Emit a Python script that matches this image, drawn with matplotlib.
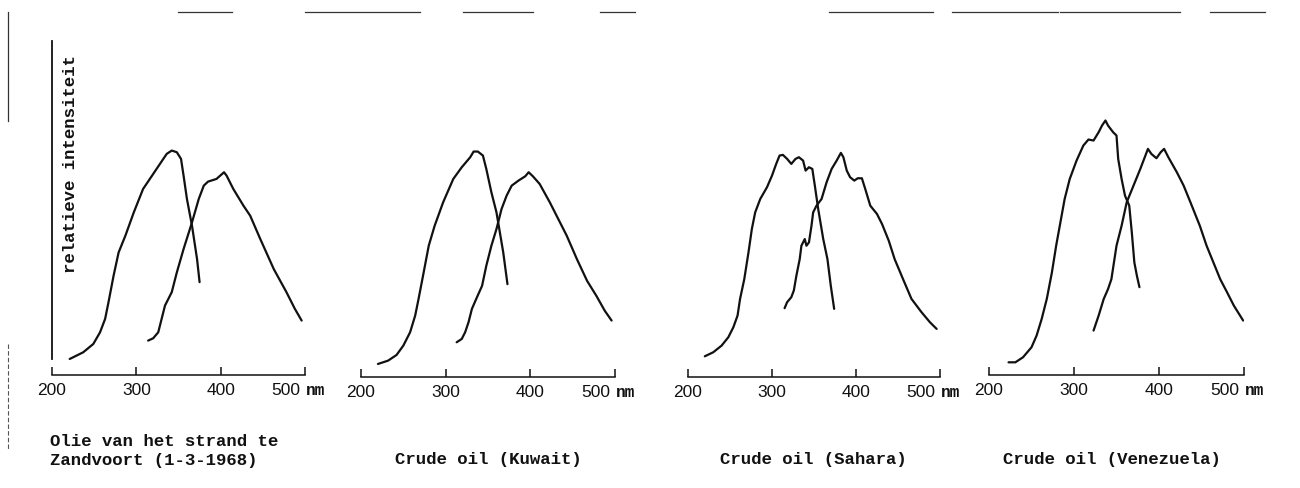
import matplotlib
matplotlib.use('Agg')
import matplotlib.pyplot as plt
from matplotlib.lines import Line2D
from matplotlib.transforms import ScaledTranslation

W, H = 1300, 489
DPI = 100

# ---- data (wavelength nm, relative intensity) ----
titles = ['Olie van het strand te\nZandvoort (1-3-1968)',
          'Crude oil (Kuwait)',
          'Crude oil (Sahara)',
          'Crude oil (Venezuela)']

# excitation spectra (left curves)
exc_nm_zandvoort = [221, 237, 249, 257, 263, 267, 273, 279, 287, 297, 308, 324, 336, 342, 348, 353, 356, 360, 366, 372, 375]
exc_int_zandvoort = [4.8, 6.8, 9.3, 12.8, 16.8, 21.8, 29.7, 36.7, 41.7, 48.7, 55.7, 61.7, 66.2, 67.2, 66.7, 64.7, 59.7, 52.7, 44.7, 34.7, 27.8]
exc_nm_kuwait = [220, 232, 242, 250, 258, 264, 268, 274, 280, 287, 297, 309, 319, 329, 333, 338, 344, 348, 354, 360, 364, 368, 373]
exc_int_kuwait = [3.9, 4.9, 6.6, 9.4, 13.4, 18.4, 23.4, 31.3, 39.3, 45.3, 52.3, 59.3, 62.8, 65.8, 67.5, 67.5, 66.3, 62.3, 55.3, 49.3, 43.3, 37.3, 27.8]
exc_nm_sahara = [220, 230, 240, 248, 254, 259, 262, 267, 272, 276, 280, 286, 294, 300, 305, 309, 313, 318, 323, 328,
                 332, 337, 340, 344, 348, 351, 355, 361, 366, 370, 374]
exc_int_sahara = [6.2, 7.4, 9.4, 11.9, 14.9, 18.4, 23.4, 29.3, 37.3, 44.3, 49.3, 53.3, 56.8, 60.3, 63.8, 66.3, 66.5, 65.3, 63.8, 65.3,
                  65.8, 64.8, 61.8, 62.8, 62.3, 57.3, 50.3, 41.3, 35.3, 27.3, 20.4]
exc_nm_venezuela = [223, 231, 240, 250, 256, 262, 268, 274, 279, 284, 289, 295, 303, 311, 317, 323, 329, 333, 337, 340,
                    346, 350, 352, 356, 360, 365, 368, 371, 374, 377]
exc_int_venezuela = [3.8, 3.8, 5.3, 8.3, 11.8, 16.8, 22.8, 30.7, 38.7, 45.7, 52.7, 58.7, 64.2, 68.7, 70.5, 70.2, 72.7, 74.7, 76.2, 74.7,
                     72.7, 71.7, 64.7, 58.7, 53.7, 50.7, 42.7, 33.7, 29.7, 26.3]

# emission spectra (right curves)
em_nm_zandvoort = [314, 320, 326, 330, 334, 342, 348, 356, 366, 374, 380, 385, 395, 404, 407, 415, 427, 435, 447, 463, 478, 488, 496]
em_int_zandvoort = [10.3, 11.0, 12.8, 16.8, 20.8, 24.8, 30.7, 37.7, 45.7, 52.7, 56.7, 57.9, 58.7, 60.7, 59.7, 55.7, 50.7, 47.7, 40.7, 31.7, 24.8, 19.8, 16.3]
em_nm_kuwait = [313, 319, 323, 327, 331, 337, 343, 348, 354, 360, 366, 372, 378, 386, 394, 398, 403, 411, 423, 435, 443,
                455, 467, 478, 488, 496]
em_int_kuwait = [10.4, 11.4, 13.4, 16.4, 20.4, 23.9, 27.3, 33.3, 39.3, 44.3, 50.3, 54.3, 57.3, 58.8, 60.1, 61.3, 60.1, 57.8, 52.3, 46.3, 42.3,
                 35.3, 28.8, 24.3, 19.8, 16.9]
em_nm_sahara = [315, 318, 323, 326, 329, 333, 335, 339, 341, 344, 347, 349, 353, 359, 365, 371, 377, 382, 385, 389,
                393, 398, 402, 407, 411, 417, 425, 431, 439, 446, 456, 466, 478, 488, 496]
em_int_sahara = [20.6, 22.4, 23.9, 25.9, 30.3, 35.3, 39.3, 41.3, 39.3, 40.3, 45.3, 49.3, 51.3, 53.3, 58.3, 62.3, 64.8, 67.1, 65.8, 61.8,
                 59.8, 58.8, 59.5, 59.5, 56.3, 51.3, 48.8, 45.8, 40.8, 35.3, 29.3, 23.4, 19.4, 16.4, 14.4]
em_nm_venezuela = [323, 329, 335, 340, 344, 350, 356, 362, 370, 378, 384, 387, 391, 397, 402, 406, 411, 421, 429, 437,
                   448, 456, 464, 472, 480, 488, 499]
em_int_venezuela = [13.3, 17.8, 22.8, 25.7, 28.7, 38.7, 44.7, 51.7, 56.7, 61.7, 65.7, 67.7, 66.2, 64.9, 66.7, 67.7, 65.2, 60.7, 56.7, 51.7,
                    44.7, 38.7, 33.7, 28.7, 24.8, 20.8, 16.3]

exc_nm = [exc_nm_zandvoort, exc_nm_kuwait, exc_nm_sahara, exc_nm_venezuela]
exc_int = [exc_int_zandvoort, exc_int_kuwait, exc_int_sahara, exc_int_venezuela]
em_nm = [em_nm_zandvoort, em_nm_kuwait, em_nm_sahara, em_nm_venezuela]
em_int = [em_int_zandvoort, em_int_kuwait, em_int_sahara, em_int_venezuela]

xticks = [200, 300, 400, 500]
xticklabels = ['200', '300', '400', '500']

# ---- layout in pixels of the scanned page ----
panel_left = [52, 361, 688, 989]     # pixel of 200 nm
panel_right = [305, 615, 940, 1244]  # pixel of 500 nm
panel_base = [376, 378, 378, 376]    # pixel row of the wavelength axis
top_px = 42
px_per_unit = 3.34

mono = 'Liberation Mono'
digits = 'Liberation Sans'
ink = '#111111'

fig = plt.figure(figsize=(W / DPI, H / DPI), dpi=DPI, facecolor='white')

for i in range(4):
    l, r, b = panel_left[i], panel_right[i], panel_base[i]
    ax = fig.add_axes([l / W, (H - b) / H, (r - l) / W, (b - top_px) / H])
    ax.set_xlim(200, 500)
    ax.set_ylim(0, (b - top_px) / px_per_unit)
    ax.patch.set_alpha(0)

    ax.plot(exc_nm[i], exc_int[i], color=ink, lw=1.6, solid_joinstyle='round', solid_capstyle='round')
    ax.plot(em_nm[i], em_int[i], color=ink, lw=1.6, solid_joinstyle='round', solid_capstyle='round')

    for s in ['top', 'right', 'left']:
        ax.spines[s].set_visible(False)
    ax.spines['bottom'].set_linewidth(1.1)
    ax.spines['bottom'].set_color(ink)
    ax.set_xticks(xticks)
    ax.set_xticklabels(xticklabels, fontfamily=digits, fontsize=12.5, color=ink)
    ax.tick_params(axis='x', direction='in', length=6, width=1.1, color=ink, pad=5)
    ax.set_yticks([])

    # "500" sits a little left of its tick, "nm" follows it
    lab = ax.xaxis.get_major_ticks()[-1].label1
    lab.set_transform(lab.get_transform() + ScaledTranslation(-19 / DPI, 0, fig.dpi_scale_trans))
    ax.annotate('nm', xy=(500, 0), xycoords='data', xytext=(1, -15),
                textcoords='offset pixels', ha='left', va='center',
                fontfamily=mono, fontweight='bold', fontsize=11.5, color=ink)

    if i == 0:
        ax.spines['left'].set_visible(True)
        ax.spines['left'].set_color(ink)
        ax.spines['left'].set_linewidth(1.3)
        ax.spines['left'].set_bounds(16 / px_per_unit, (b - top_px) / px_per_unit)
        ax.text(222, 96, 'relatieve intensiteit', rotation=90, ha='center', va='top',
                fontfamily=mono, fontweight='bold', fontsize=12.5, color=ink)

# panel captions
fig.text(50 / W, 1 - 442 / H, 'Olie van het strand te', ha='left', va='center',
         fontfamily=mono, fontweight='bold', fontsize=12.5, color=ink)
fig.text(50 / W, 1 - 461 / H, 'Zandvoort (1-3-1968)', ha='left', va='center',
         fontfamily=mono, fontweight='bold', fontsize=12.5, color=ink)
cap_left = [395, 720, 1003]
for x, t in zip(cap_left, titles[1:]):
    fig.text(x / W, 1 - 460 / H, t, ha='left', va='center',
             fontfamily=mono, fontweight='bold', fontsize=12.5, color=ink)

# edges of the scanned sheet
top_edges = [(178, 232), (305, 420), (463, 533), (600, 635), (829, 933),
             (952, 1058), (1060, 1180), (1210, 1265)]
for x0, x1 in top_edges:
    fig.add_artist(Line2D([x0 / W, x1 / W], [1 - 13 / H, 1 - 13 / H],
                          color='#333333', lw=0.9))
fig.add_artist(Line2D([8 / W, 8 / W], [1 - 13 / H, 1 - 122 / H], color='#333333', lw=0.9))
fig.add_artist(Line2D([8 / W, 8 / W], [1 - 345 / H, 1 - 450 / H], color='#555555',
                      lw=0.8, ls=(0, (4, 2))))

fig.savefig('out.png', dpi=DPI, facecolor='white')
